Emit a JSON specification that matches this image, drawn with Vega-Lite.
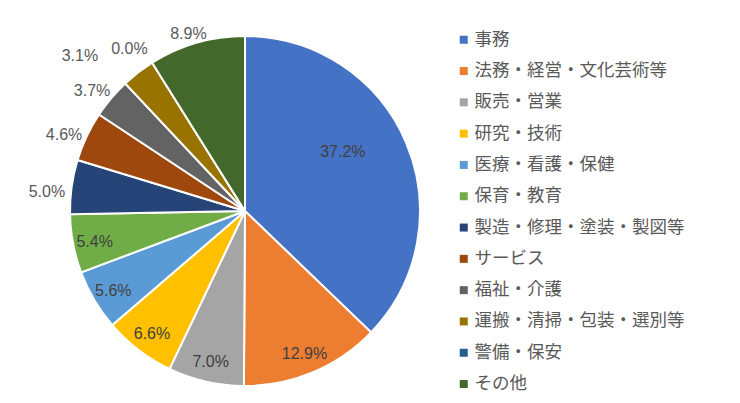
{
  "$schema": "https://vega.github.io/schema/vega-lite/v6.json",
  "width": 490,
  "height": 422,
  "padding": 0,
  "autosize": {"type": "pad"},
  "background": "white",
  "config": {"view": {"stroke": null}},
  "data": {"values": [
    {"cat": "事務", "pct": 37.2, "label": "37.2%", "i": 1},
    {"cat": "法務・経営・文化芸術等", "pct": 12.9, "label": "12.9%", "i": 2},
    {"cat": "販売・営業", "pct": 7.0, "label": "7.0%", "i": 3},
    {"cat": "研究・技術", "pct": 6.6, "label": "6.6%", "i": 4},
    {"cat": "医療・看護・保健", "pct": 5.6, "label": "5.6%", "i": 5},
    {"cat": "保育・教育", "pct": 5.4, "label": "5.4%", "i": 6},
    {"cat": "製造・修理・塗装・製図等", "pct": 5.0, "label": "5.0%", "i": 7},
    {"cat": "サービス", "pct": 4.6, "label": "4.6%", "i": 8},
    {"cat": "福祉・介護", "pct": 3.7, "label": "3.7%", "i": 9},
    {"cat": "運搬・清掃・包装・選別等", "pct": 3.1, "label": "3.1%", "i": 10},
    {"cat": "警備・保安", "pct": 0.0, "label": "0.0%", "i": 11},
    {"cat": "その他", "pct": 8.9, "label": "8.9%", "i": 12}
  ]},
  "encoding": {
    "theta": {"field": "pct", "type": "quantitative", "stack": true},
    "order": {"field": "i", "type": "quantitative"}
  },
  "layer": [
    {
      "mark": {"type": "arc", "outerRadius": 175, "stroke": "white", "strokeWidth": 2},
      "encoding": {
        "color": {
          "field": "cat", "type": "nominal",
          "scale": {
            "domain": ["事務", "法務・経営・文化芸術等", "販売・営業", "研究・技術", "医療・看護・保健", "保育・教育", "製造・修理・塗装・製図等", "サービス", "福祉・介護", "運搬・清掃・包装・選別等", "警備・保安", "その他"],
            "range": ["#4472C4", "#ED7D31", "#A5A5A5", "#FFC000", "#5B9BD5", "#70AD47", "#264478", "#9E480E", "#636363", "#997300", "#255E91", "#43682B"]
          },
          "legend": {
            "title": null,
            "orient": "none",
            "legendX": 455,
            "legendY": 31,
            "symbolType": "square",
            "symbolSize": 64,
            "symbolStrokeWidth": 0,
            "labelFontSize": 17.5,
            "labelFont": "Noto Sans CJK JP",
            "labelColor": "#595959",
            "labelOffset": 2,
            "rowPadding": 12.3,
            "labelLimit": 400
          }
        }
      }
    },
    {
      "mark": {"type": "text", "radius": 153, "fontSize": 16, "font": "Liberation Sans", "fill": "#404040", "dy": 2},
      "encoding": {"text": {"condition": {"test": "datum.i >= 2 && datum.i <= 6", "field": "label"}, "value": ""}}
    },
    {
      "mark": {"type": "text", "radius": 115, "fontSize": 16, "font": "Liberation Sans", "fill": "#404040", "dx": -8, "dy": -14},
      "encoding": {"text": {"condition": {"test": "datum.i == 1", "field": "label"}, "value": ""}}
    },
    {
      "mark": {"type": "text", "radius": 200, "fontSize": 16, "font": "Liberation Sans", "fill": "#595959", "dy": 9},
      "encoding": {"text": {"condition": {"test": "datum.i >= 7 && datum.i <= 9", "field": "label"}, "value": ""}}
    },
    {
      "mark": {"type": "text", "radius": 199, "fontSize": 16, "font": "Liberation Sans", "fill": "#595959", "dx": -10, "dy": 7},
      "encoding": {"text": {"condition": {"test": "datum.i == 11", "field": "label"}, "value": ""}}
    },
    {
      "mark": {"type": "text", "radius": 200, "fontSize": 16, "font": "Liberation Sans", "fill": "#595959", "dx": -43, "dy": 3},
      "encoding": {"text": {"condition": {"test": "datum.i == 10", "field": "label"}, "value": ""}}
    },
    {
      "mark": {"type": "text", "radius": 187, "fontSize": 16, "font": "Liberation Sans", "fill": "#595959", "dx": -5, "dy": 3},
      "encoding": {"text": {"condition": {"test": "datum.i == 12", "field": "label"}, "value": ""}}
    }
  ]
}
